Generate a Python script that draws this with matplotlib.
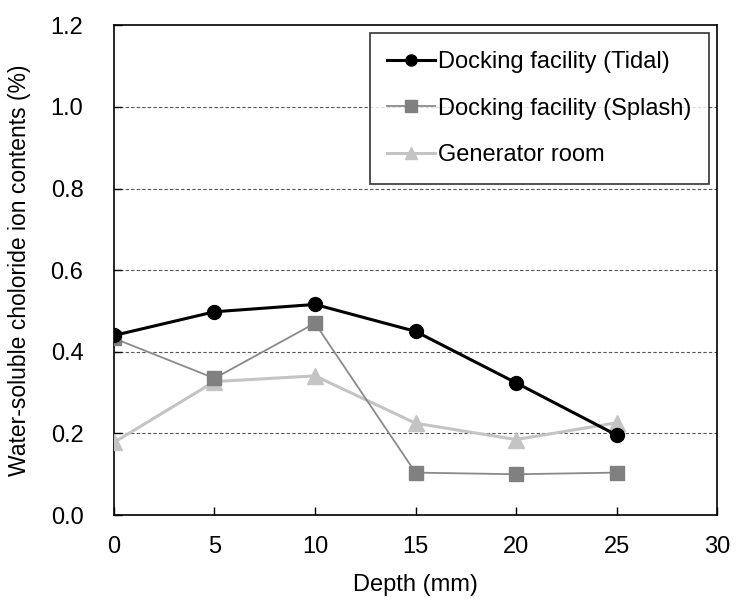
import matplotlib
matplotlib.use("Agg")
import matplotlib.pyplot as plt

# ==========================================================
# DADOS
# ==========================================================
depth = [0, 5, 10, 15, 20, 25]
tidal = [0.44, 0.498, 0.516, 0.45, 0.324, 0.196]
splash = [0.433, 0.335, 0.47, 0.104, 0.100, 0.104]
generator = [0.178, 0.327, 0.341, 0.225, 0.185, 0.226]

labels = ["Docking facility (Tidal)", "Docking facility (Splash)", "Generator room"]

plt.rcParams["font.family"] = ["Liberation Sans", "DejaVu Sans"]

fig = plt.figure(figsize=(7.4, 6.01), dpi=100)
ax = fig.add_axes([0.154, 0.143, 0.815, 0.815])

ax.plot(depth, tidal, color="black", lw=2.2, marker="o", ms=10, label=labels[0], zorder=5)
ax.plot(depth, splash, color="#8a8a8a", lw=1.3, marker="s", ms=10,
        mfc="#808080", mec="#808080", label=labels[1], zorder=4)
ax.plot(depth, generator, color="#c4c4c4", lw=2.2, marker="^", ms=11,
        mfc="#c4c4c4", mec="#c4c4c4", label=labels[2], zorder=3)

ax.set_xlim(0, 30)
ax.set_ylim(0, 1.2)
ax.set_xticks(range(0, 31, 5))
ax.set_yticks([0.0, 0.2, 0.4, 0.6, 0.8, 1.0, 1.2])
ax.set_yticklabels(["0.0", "0.2", "0.4", "0.6", "0.8", "1.0", "1.2"])

for yv in [0.2, 0.4, 0.6, 0.8, 1.0]:
    ax.axhline(yv, color="#555555", lw=0.8, ls=(0, (3, 2)), zorder=1)

ax.tick_params(direction="in", length=6, width=1, labelsize=17)
ax.tick_params(axis="y", pad=22)
ax.tick_params(axis="x", pad=15)
for s in ax.spines.values():
    s.set_linewidth(1.2)

ax.set_xlabel("Depth (mm)", fontsize=17)
ax.set_ylabel("Water-soluble choloride ion contents (%)", fontsize=16.5)
ax.xaxis.set_label_coords(0.5, -0.12)
ax.yaxis.set_label_coords(-0.137, 0.5)

leg = ax.legend(loc="upper right", fontsize=17, frameon=True, fancybox=False,
                edgecolor="black", handlelength=2.0, labelspacing=1.05,
                borderpad=0.75, handletextpad=0.15, borderaxespad=0,
                bbox_to_anchor=(0.987, 0.984))
leg.get_frame().set_linewidth(1.2)
for h in leg.legend_handles:
    h.set_markersize(8)

fig.savefig("out.png", dpi=100)
